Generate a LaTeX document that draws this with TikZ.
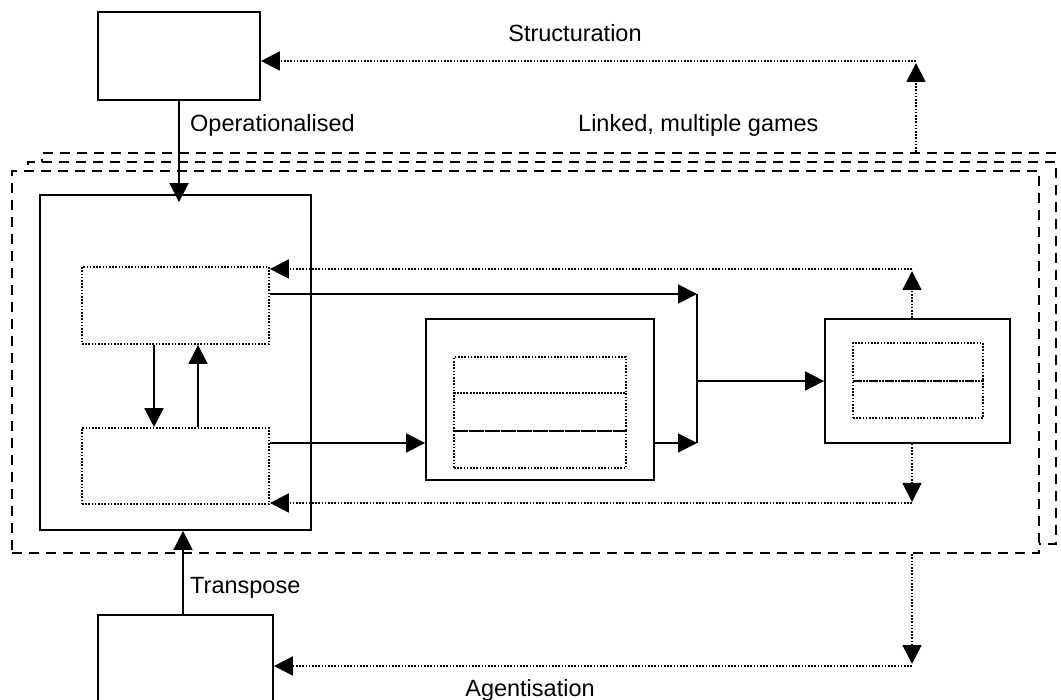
\documentclass[tikz,border=0pt]{standalone}
\usepackage{fontspec}
\setmainfont{Liberation Sans}
\usetikzlibrary{arrows.meta}
\begin{document}
\begin{tikzpicture}[x=1pt,y=-1pt,
  box/.style={draw, line width=1.8pt, inner sep=0pt},
  frame/.style={draw, line width=2.3pt, dash pattern=on 10pt off 7pt, fill=white, inner sep=0pt},
  dotbox/.style={draw, line width=1.8pt, dash pattern=on 1.6pt off 1.6pt, inner sep=0pt},
  arr/.style={-{Triangle[length=19pt,width=19pt]}, line width=1.8pt},
  plain/.style={line width=1.8pt},
  darr/.style={-{Triangle[length=19pt,width=19pt]}, line width=1.8pt, dash pattern=on 1.6pt off 1.6pt},
  lab/.style={font=\fontsize{23.5}{28}\selectfont, inner sep=0pt, anchor=base west}]
\useasboundingbox (0,0) rectangle (1061,700);
\clip (0,0) rectangle (1061,700);
\fill[white] (0,0) rectangle (1061,700);

% stacked dashed frames (back to front)
\node[frame, minimum width=1030pt, minimum height=382pt] (f3) at (557,344) {};
\node[frame, minimum width=1028pt, minimum height=382pt] (f2) at (542,353) {};
\node[frame, minimum width=1027pt, minimum height=382pt] (f1) at (525.5,362) {};

% outer boxes
\node[box, minimum width=162pt, minimum height=88pt] (topbox) at (179,56) {};
\node[box, minimum width=175pt, minimum height=105pt] (botbox) at (185.5,667.5) {};

% left big box and its dotted boxes
\node[box, minimum width=271pt, minimum height=335pt] (leftbox) at (175.5,362.5) {};
\node[dotbox, minimum width=187pt, minimum height=77pt] (dA) at (175.5,305.5) {};
\node[dotbox, minimum width=187pt, minimum height=76pt] (dB) at (175.5,466) {};

% middle box
\node[box, minimum width=228pt, minimum height=161pt] (mid) at (540,399.5) {};
\node[dotbox, minimum width=172pt, minimum height=36pt] (m1) at (540,375) {};
\node[dotbox, minimum width=172pt, minimum height=38pt] (m2) at (540,412) {};
\node[dotbox, minimum width=172pt, minimum height=37pt] (m3) at (540,449.5) {};

% right box
\node[box, minimum width=185pt, minimum height=124pt] (right) at (917.5,381) {};
\node[dotbox, minimum width=130pt, minimum height=38pt] (r1) at (918,362) {};
\node[dotbox, minimum width=130pt, minimum height=37pt] (r2) at (918,399.5) {};

% helper coordinates
\coordinate (j1) at (697,294);
\coordinate (j2) at (697,443);
\coordinate (j3) at (697,381);
\coordinate (da) at (154,0);
\coordinate (ua) at (198,0);
\coordinate (tp) at (183,0);
\coordinate (ra) at (912,271);
\coordinate (rah) at (912,269);
\coordinate (rb) at (912,502);
\coordinate (rbh) at (912,503);
\coordinate (oa) at (916,63);
\coordinate (oah) at (916,61);
\coordinate (ob) at (912,664);
\coordinate (obh) at (912,666);

% solid connectors
\draw[arr, shorten >=-8pt] (topbox.south) -- (topbox.south |- leftbox.north);
\draw[arr] (tp |- botbox.north) -- (tp |- leftbox.south);
\draw[arr] (da |- dA.south) -- (da |- dB.north);
\draw[arr] (ua |- dB.north) -- (ua |- dA.south);
\draw[arr] (dA.east |- j1) -- (j1);
\draw[arr] (dB.east |- j2) -- (mid.west |- j2);
\draw[arr] (mid.east |- j2) -- (j2);
\draw[plain] (j1) -- (j2);
\draw[arr] (j3) -- (right.west |- j3);

% dotted connectors
\draw[darr] (ra |- right.north) -- (ra);
\draw[darr] (rah) -- (dA.east |- rah);
\draw[darr] (rb |- right.south) -- (rb);
\draw[darr] (rbh) -- (dB.east |- rbh);
\draw[darr] (oa |- f3.north) -- (oa);
\draw[darr] (oah) -- (topbox.east |- oah);
\draw[darr] (ob |- f1.south) -- (ob);
\draw[darr] (obh) -- (botbox.east |- obh);

% labels
\node[lab, anchor=base] (lstruct) at (575,42) {Structuration};
\node[lab] (loper) at (190,132) {Operationalised};
\node[lab] (llink) at (578,132) {Linked, multiple games};
\node[lab] (ltrans) at (190,593) {Transpose};
\node[lab, anchor=base] (lagent) at (530,696) {Agentisation};
\end{tikzpicture}
\end{document}
